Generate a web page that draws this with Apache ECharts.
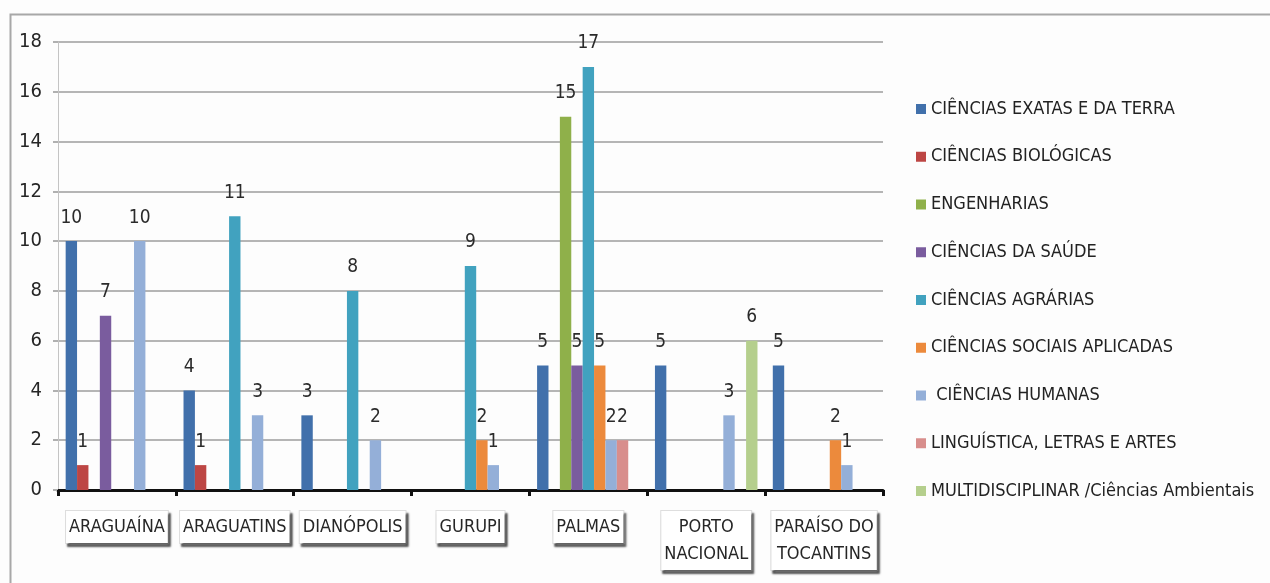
<!DOCTYPE html>
<html>
<head>
<meta charset="utf-8">
<title>Cursos por campus e área</title>
<script src="https://cdn.jsdelivr.net/npm/echarts@6/dist/echarts.min.js"></script>
<style>
  html, body { margin: 0; padding: 0; background: #fdfdfd; }
  #chart { width: 1270px; height: 583px; }
</style>
</head>
<body>
<div id="chart"></div>
<script>
// Campuses (x-axis categories)
const campuses = ['ARAGUAÍNA', 'ARAGUATINS', 'DIANÓPOLIS', 'GURUPI', 'PALMAS', 'PORTO\nNACIONAL', 'PARAÍSO DO\nTOCANTINS'];

// Knowledge areas (legend order)
const areaNames = [
  'CIÊNCIAS EXATAS E DA TERRA',
  'CIÊNCIAS BIOLÓGICAS',
  'ENGENHARIAS',
  'CIÊNCIAS DA SAÚDE',
  'CIÊNCIAS AGRÁRIAS',
  'CIÊNCIAS SOCIAIS APLICADAS',
  ' CIÊNCIAS HUMANAS',
  'LINGUÍSTICA, LETRAS E ARTES',
  'MULTIDISCIPLINAR /Ciências Ambientais'
];

// Number of courses per campus, one array per area
const exatas      = [10, 4, 3, 0, 5, 5, 5];
const biologicas  = [1, 1, 0, 0, 0, 0, 0];
const engenharias = [0, 0, 0, 0, 15, 0, 0];
const saude       = [7, 0, 0, 0, 5, 0, 0];
const agrarias    = [0, 11, 8, 9, 17, 0, 0];
const sociais     = [0, 0, 0, 2, 5, 0, 2];
const humanas     = [10, 3, 2, 1, 2, 3, 1];
const linguistica = [0, 0, 0, 0, 2, 0, 0];
const multi       = [0, 0, 0, 0, 0, 6, 0];

// Y-axis range
const yMin = 0, yMax = 18, yStep = 2;

const areaValues = [exatas, biologicas, engenharias, saude, agrarias, sociais, humanas, linguistica, multi];
const areaColors = ['#4170ab', '#bd4644', '#8fb04a', '#7a5c9e', '#41a2bf', '#ec8a3c', '#94afd8', '#d88e8c', '#b5cf8d'];

const FONT = "'DejaVu Sans Condensed', 'Liberation Sans Narrow', sans-serif";

const chart = echarts.init(document.getElementById('chart'));

const series = areaNames.map((name, i) => ({
  name: name,
  type: 'bar',
  data: areaValues[i],
  barGap: '0%',
  barCategoryGap: '13%',
  itemStyle: { color: areaColors[i] },
  label: {
    show: true,
    position: 'top',
    distance: 14,
    color: '#2b2b2b',
    fontFamily: FONT,
    fontSize: 19,
    formatter: p => (p.value === 0 ? '' : String(p.value))
  }
}));

chart.setOption({
  backgroundColor: '#fdfdfd',
  animation: false,
  textStyle: { fontFamily: FONT },
  graphic: [{
    type: 'rect',
    left: 8, top: 12,
    shape: { width: 1400, height: 800 },
    style: { fill: 'none', stroke: '#a8a8a8', lineWidth: 2 },
    silent: true
  }],
  legend: {
    orient: 'vertical',
    left: 911,
    top: 94,
    itemWidth: 10,
    itemHeight: 10,
    itemGap: 27.75,
    icon: 'rect',
    textStyle: { fontFamily: FONT, fontSize: 18, color: '#222', lineHeight: 20 },
    data: areaNames
  },
  grid: { left: 58, right: 387, top: 42, bottom: 93, containLabel: false },
  xAxis: {
    type: 'category',
    data: campuses,
    axisLine: { lineStyle: { color: '#111', width: 3 } },
    axisTick: { show: true, length: 6, lineStyle: { color: '#111', width: 3 }, alignWithLabel: false },
    axisLabel: {
      interval: 0,
      margin: 21,
      color: '#262626',
      fontFamily: FONT,
      fontSize: 18,
      lineHeight: 27,
      backgroundColor: '#ffffff',
      borderColor: '#dedede',
      borderWidth: 1,
      padding: [3, 3, 2, 3],
      shadowColor: 'rgba(0,0,0,0.55)',
      shadowBlur: 2,
      shadowOffsetX: 2,
      shadowOffsetY: 3
    }
  },
  yAxis: {
    type: 'value',
    min: yMin,
    max: yMax,
    interval: yStep,
    axisLine: { show: true, lineStyle: { color: '#c4c4c4', width: 1 } },
    axisTick: { show: true, length: 5, lineStyle: { color: '#b0b0b0', width: 2 } },
    axisLabel: { color: '#262626', fontFamily: FONT, fontSize: 20, margin: 16 },
    splitLine: { lineStyle: { color: '#b5b5b5', width: 2 } }
  },
  series: series
});
</script>
</body>
</html>
